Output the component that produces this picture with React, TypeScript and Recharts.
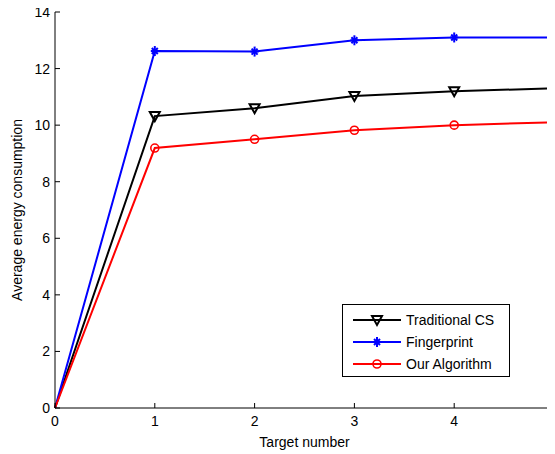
import React from "react";
import { LineChart, Line, XAxis, YAxis, Legend } from "recharts";

const targetNumbers = [0, 1, 2, 3, 4, 5];
const traditionalCS = [0, 10.32, 10.6, 11.03, 11.2, 11.3];
const fingerprint = [0, 12.62, 12.6, 13.0, 13.1, 13.1];
const ourAlgorithm = [0, 9.19, 9.5, 9.82, 10.0, 10.1];
const xTicks = [0, 1, 2, 3, 4, 5];
const yTicks = [0, 2, 4, 6, 8, 10, 12, 14];
const seriesNames = ["Traditional CS", "Fingerprint", "Our Algorithm"];
const seriesKeys = ["trad", "finger", "ours"];
const seriesColors = ["#000000", "#0000ff", "#ff0000"];

const data = targetNumbers.map((x, i) => ({
  x,
  trad: traditionalCS[i],
  finger: fingerprint[i],
  ours: ourAlgorithm[i],
}));

const FONT = '"Liberation Sans", Arial, sans-serif';

function markerShape(kind: string, cx: number, cy: number, key?: any) {
  if (kind === "trad") {
    return (
      <polygon
        key={key}
        points={`${cx - 5},${cy - 4} ${cx + 5},${cy - 4} ${cx},${cy + 5}`}
        fill="none"
        stroke="#000000"
        strokeWidth={2}
      />
    );
  }
  if (kind === "finger") {
    return (
      <g key={key} stroke="#0000ff" strokeWidth={2}>
        <line x1={cx} y1={cy - 5} x2={cx} y2={cy + 5} />
        <line x1={cx - 4} y1={cy} x2={cx + 4} y2={cy} />
        <line x1={cx - 3} y1={cy - 3} x2={cx + 3} y2={cy + 3} />
        <line x1={cx - 3} y1={cy + 3} x2={cx + 3} y2={cy - 3} />
      </g>
    );
  }
  return (
    <circle key={key} cx={cx} cy={cy} r={4} fill="none" stroke="#ff0000" strokeWidth={1.6} />
  );
}

const makeDot = (kind: string) => (props: any) => {
  const { cx, cy, index } = props;
  if (index === 0 || cx == null || cy == null) return <g key={`d-${kind}-${index}`} />;
  return markerShape(kind, cx, cy, `d-${kind}-${index}`);
};

const LegendBox = () => (
  <div
    style={{
      width: 166,
      height: 71,
      border: "1px solid #000",
      background: "#fff",
      fontFamily: FONT,
      fontSize: 14,
      color: "#000",
      position: "relative",
    }}
  >
    {seriesNames.map((name, i) => (
      <div
        key={name}
        style={{ position: "absolute", left: 9, top: 5 + i * 22, height: 20, display: "flex", alignItems: "center" }}
      >
        <svg width={50} height={20} style={{ display: "block" }}>
          <line x1={1} y1={10} x2={49} y2={10} stroke={seriesColors[i]} strokeWidth={2} />
          {markerShape(seriesKeys[i], 25, 10)}
        </svg>
        <span style={{ marginLeft: 4, whiteSpace: "nowrap" }}>{name}</span>
      </div>
    ))}
  </div>
);

export default function App() {
  return (
    <div style={{ width: 547, height: 446, overflow: "hidden" }}>
      <LineChart
        width={547}
        height={446}
        data={data}
        margin={{ top: 4, right: 1, bottom: 0, left: 0 }}
        style={{ fontFamily: FONT }}
      >
        <XAxis
          dataKey="x"
          type="number"
          domain={[0, 5]}
          ticks={xTicks}
          height={46}
          axisLine={{ stroke: "#000", strokeWidth: 1 }}
          tickLine={{ stroke: "#000" }}
          tickSize={-5}
          tickMargin={13}
          tick={{ fill: "#000", fontSize: 14, fontFamily: FONT }}
          interval={0}
          label={{
            content: (p: any) => {
              const vb = p.viewBox;
              return (
                <text
                  x={vb.x + vb.width / 2}
                  y={439}
                  textAnchor="middle"
                  fontSize={14}
                  fontFamily={FONT}
                  fill="#000"
                >
                  Target number
                </text>
              );
            },
          }}
        />
        <XAxis
          xAxisId="top"
          orientation="top"
          dataKey="x"
          type="number"
          domain={[0, 5]}
          ticks={xTicks}
          height={0}
          axisLine={{ stroke: "#000", strokeWidth: 1 }}
          tickLine={{ stroke: "#000" }}
          tickSize={-5}
          tick={{ fill: "none", fontSize: 1 }}
          interval={0}
        />
        <YAxis
          type="number"
          domain={[0, 14]}
          ticks={yTicks}
          width={47}
          axisLine={{ stroke: "#000", strokeWidth: 1 }}
          tickLine={{ stroke: "#000" }}
          tickSize={-5}
          tickMargin={10}
          tick={{ fill: "#000", fontSize: 14, fontFamily: FONT }}
          interval={0}
          label={{
            content: (p: any) => {
              const vb = p.viewBox;
              const cx = 9;
              const cy = vb.y + vb.height / 2;
              return (
                <text
                  x={cx}
                  y={cy}
                  transform={`rotate(-90, ${cx}, ${cy})`}
                  textAnchor="middle"
                  dominantBaseline="central"
                  fontSize={14}
                  fontFamily={FONT}
                  fill="#000"
                >
                  Average energy consumption
                </text>
              );
            },
          }}
        />
        <YAxis
          yAxisId="right"
          orientation="right"
          type="number"
          domain={[0, 14]}
          ticks={yTicks}
          width={0}
          axisLine={{ stroke: "#000", strokeWidth: 1 }}
          tickLine={{ stroke: "#000" }}
          tickSize={-5}
          tick={{ fill: "none", fontSize: 1 }}
          interval={0}
        />
        {seriesKeys.map((k, i) => (
          <Line
            key={k}
            dataKey={k}
            name={seriesNames[i]}
            type="linear"
            stroke={seriesColors[i]}
            strokeWidth={2}
            dot={makeDot(k)}
            activeDot={false}
            isAnimationActive={false}
          />
        ))}
        <Legend
          layout="horizontal"
          verticalAlign="middle"
          align="center"
          content={() => <LegendBox />}
          wrapperStyle={{ position: "absolute", left: 334, top: 296, width: 168, height: 73 }}
        />
      </LineChart>
    </div>
  );
}
